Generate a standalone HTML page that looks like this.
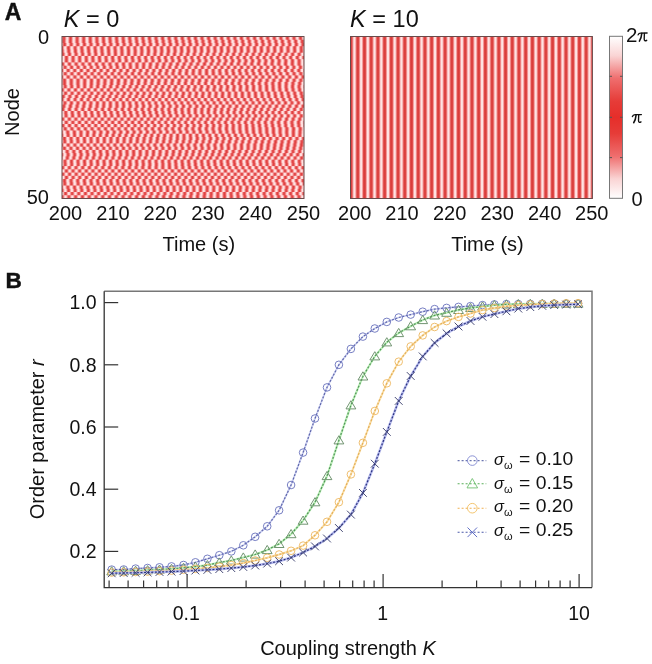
<!DOCTYPE html>
<html><head><meta charset="utf-8"><style>
html,body{margin:0;padding:0;background:#fff;overflow:hidden}
svg{display:block;will-change:transform}
text{font-family:"Liberation Sans", sans-serif;fill:#111}
</style></head><body>
<svg width="652" height="664" viewBox="0 0 652 664">
<defs>
<linearGradient id="stripe" x1="0" y1="0" x2="1" y2="0">
  <stop offset="0" stop-color="#fff0f0"/>
  <stop offset="0.1" stop-color="#ffdede"/>
  <stop offset="0.22" stop-color="#f39696"/>
  <stop offset="0.34" stop-color="#e04c4a"/>
  <stop offset="0.42" stop-color="#da3c3a"/>
  <stop offset="0.58" stop-color="#da3c3a"/>
  <stop offset="0.66" stop-color="#e04c4a"/>
  <stop offset="0.78" stop-color="#f39696"/>
  <stop offset="0.9" stop-color="#ffdede"/>
  <stop offset="1" stop-color="#fff0f0"/>
</linearGradient>
<linearGradient id="stripeL" x1="0" y1="0" x2="1" y2="0">
  <stop offset="0" stop-color="#fff0f0"/>
  <stop offset="0.14" stop-color="#ffd6d6"/>
  <stop offset="0.3" stop-color="#ef7272"/>
  <stop offset="0.42" stop-color="#df3e3e"/>
  <stop offset="0.58" stop-color="#df3e3e"/>
  <stop offset="0.7" stop-color="#ef7272"/>
  <stop offset="0.86" stop-color="#ffd6d6"/>
  <stop offset="1" stop-color="#fff0f0"/>
</linearGradient>
<linearGradient id="cbar" x1="0" y1="0" x2="0" y2="1">
  <stop offset="0" stop-color="#ffffff"/>
  <stop offset="0.12" stop-color="#fad4d4"/>
  <stop offset="0.26" stop-color="#ef6e6e"/>
  <stop offset="0.4" stop-color="#e63c38"/>
  <stop offset="0.5" stop-color="#e62e2a"/>
  <stop offset="0.6" stop-color="#e63c38"/>
  <stop offset="0.74" stop-color="#ef6e6e"/>
  <stop offset="0.88" stop-color="#fad4d4"/>
  <stop offset="1" stop-color="#ffffff"/>
</linearGradient>

<pattern id="pR" patternUnits="userSpaceOnUse" x="354.4" y="0" width="6.717" height="664"><rect x="0" y="0" width="6.717" height="664" fill="url(#stripe)"/></pattern>
<pattern id="pL0" patternUnits="userSpaceOnUse" x="67.27" y="0" width="6.572" height="664"><rect x="0" y="0" width="6.572" height="664" fill="url(#stripeL)"/></pattern>
<pattern id="pL1" patternUnits="userSpaceOnUse" x="67.15" y="0" width="6.623" height="664"><rect x="0" y="0" width="6.623" height="664" fill="url(#stripeL)"/></pattern>
<pattern id="pL2" patternUnits="userSpaceOnUse" x="67.84" y="0" width="6.622" height="664"><rect x="0" y="0" width="6.622" height="664" fill="url(#stripeL)"/></pattern>
<pattern id="pL3" patternUnits="userSpaceOnUse" x="65.13" y="0" width="6.651" height="664"><rect x="0" y="0" width="6.651" height="664" fill="url(#stripeL)"/></pattern>
<pattern id="pL4" patternUnits="userSpaceOnUse" x="65.46" y="0" width="6.645" height="664"><rect x="0" y="0" width="6.645" height="664" fill="url(#stripeL)"/></pattern>
<pattern id="pL5" patternUnits="userSpaceOnUse" x="66.23" y="0" width="6.562" height="664"><rect x="0" y="0" width="6.562" height="664" fill="url(#stripeL)"/></pattern>
<pattern id="pL6" patternUnits="userSpaceOnUse" x="63.16" y="0" width="6.596" height="664"><rect x="0" y="0" width="6.596" height="664" fill="url(#stripeL)"/></pattern>
<pattern id="pL7" patternUnits="userSpaceOnUse" x="63.08" y="0" width="6.649" height="664"><rect x="0" y="0" width="6.649" height="664" fill="url(#stripeL)"/></pattern>
<pattern id="pL8" patternUnits="userSpaceOnUse" x="66.03" y="0" width="6.755" height="664"><rect x="0" y="0" width="6.755" height="664" fill="url(#stripeL)"/></pattern>
<pattern id="pL9" patternUnits="userSpaceOnUse" x="68.35" y="0" width="6.537" height="664"><rect x="0" y="0" width="6.537" height="664" fill="url(#stripeL)"/></pattern>
<pattern id="pL10" patternUnits="userSpaceOnUse" x="64.88" y="0" width="6.590" height="664"><rect x="0" y="0" width="6.590" height="664" fill="url(#stripeL)"/></pattern>
<pattern id="pL11" patternUnits="userSpaceOnUse" x="68.59" y="0" width="6.731" height="664"><rect x="0" y="0" width="6.731" height="664" fill="url(#stripeL)"/></pattern>
<pattern id="pL12" patternUnits="userSpaceOnUse" x="64.86" y="0" width="6.710" height="664"><rect x="0" y="0" width="6.710" height="664" fill="url(#stripeL)"/></pattern>
<pattern id="pL13" patternUnits="userSpaceOnUse" x="67.89" y="0" width="6.752" height="664"><rect x="0" y="0" width="6.752" height="664" fill="url(#stripeL)"/></pattern>
<pattern id="pL14" patternUnits="userSpaceOnUse" x="67.89" y="0" width="6.718" height="664"><rect x="0" y="0" width="6.718" height="664" fill="url(#stripeL)"/></pattern>
<pattern id="pL15" patternUnits="userSpaceOnUse" x="68.44" y="0" width="6.497" height="664"><rect x="0" y="0" width="6.497" height="664" fill="url(#stripeL)"/></pattern>
<pattern id="pL16" patternUnits="userSpaceOnUse" x="65.57" y="0" width="6.594" height="664"><rect x="0" y="0" width="6.594" height="664" fill="url(#stripeL)"/></pattern>
<pattern id="pL17" patternUnits="userSpaceOnUse" x="62.28" y="0" width="6.548" height="664"><rect x="0" y="0" width="6.548" height="664" fill="url(#stripeL)"/></pattern>
<pattern id="pL18" patternUnits="userSpaceOnUse" x="66.56" y="0" width="6.633" height="664"><rect x="0" y="0" width="6.633" height="664" fill="url(#stripeL)"/></pattern>
<pattern id="pL19" patternUnits="userSpaceOnUse" x="65.29" y="0" width="6.519" height="664"><rect x="0" y="0" width="6.519" height="664" fill="url(#stripeL)"/></pattern>
<pattern id="pL20" patternUnits="userSpaceOnUse" x="68.22" y="0" width="6.486" height="664"><rect x="0" y="0" width="6.486" height="664" fill="url(#stripeL)"/></pattern>
<pattern id="pL21" patternUnits="userSpaceOnUse" x="67.15" y="0" width="6.647" height="664"><rect x="0" y="0" width="6.647" height="664" fill="url(#stripeL)"/></pattern>
<pattern id="pL22" patternUnits="userSpaceOnUse" x="66.17" y="0" width="6.622" height="664"><rect x="0" y="0" width="6.622" height="664" fill="url(#stripeL)"/></pattern>
<pattern id="pL23" patternUnits="userSpaceOnUse" x="62.56" y="0" width="6.476" height="664"><rect x="0" y="0" width="6.476" height="664" fill="url(#stripeL)"/></pattern>
<pattern id="pL24" patternUnits="userSpaceOnUse" x="62.79" y="0" width="6.534" height="664"><rect x="0" y="0" width="6.534" height="664" fill="url(#stripeL)"/></pattern>
<pattern id="pL25" patternUnits="userSpaceOnUse" x="66.02" y="0" width="6.583" height="664"><rect x="0" y="0" width="6.583" height="664" fill="url(#stripeL)"/></pattern>
<pattern id="pL26" patternUnits="userSpaceOnUse" x="62.90" y="0" width="6.639" height="664"><rect x="0" y="0" width="6.639" height="664" fill="url(#stripeL)"/></pattern>
<pattern id="pL27" patternUnits="userSpaceOnUse" x="66.20" y="0" width="6.553" height="664"><rect x="0" y="0" width="6.553" height="664" fill="url(#stripeL)"/></pattern>
<pattern id="pL28" patternUnits="userSpaceOnUse" x="68.61" y="0" width="6.715" height="664"><rect x="0" y="0" width="6.715" height="664" fill="url(#stripeL)"/></pattern>
<pattern id="pL29" patternUnits="userSpaceOnUse" x="64.42" y="0" width="6.636" height="664"><rect x="0" y="0" width="6.636" height="664" fill="url(#stripeL)"/></pattern>
<pattern id="pL30" patternUnits="userSpaceOnUse" x="64.89" y="0" width="6.437" height="664"><rect x="0" y="0" width="6.437" height="664" fill="url(#stripeL)"/></pattern>
<pattern id="pL31" patternUnits="userSpaceOnUse" x="67.77" y="0" width="6.643" height="664"><rect x="0" y="0" width="6.643" height="664" fill="url(#stripeL)"/></pattern>
<pattern id="pL32" patternUnits="userSpaceOnUse" x="68.08" y="0" width="6.586" height="664"><rect x="0" y="0" width="6.586" height="664" fill="url(#stripeL)"/></pattern>
<pattern id="pL33" patternUnits="userSpaceOnUse" x="64.87" y="0" width="6.665" height="664"><rect x="0" y="0" width="6.665" height="664" fill="url(#stripeL)"/></pattern>
<pattern id="pL34" patternUnits="userSpaceOnUse" x="67.68" y="0" width="6.563" height="664"><rect x="0" y="0" width="6.563" height="664" fill="url(#stripeL)"/></pattern>
<pattern id="pL35" patternUnits="userSpaceOnUse" x="63.87" y="0" width="6.642" height="664"><rect x="0" y="0" width="6.642" height="664" fill="url(#stripeL)"/></pattern>
<pattern id="pL36" patternUnits="userSpaceOnUse" x="64.81" y="0" width="6.560" height="664"><rect x="0" y="0" width="6.560" height="664" fill="url(#stripeL)"/></pattern>
<pattern id="pL37" patternUnits="userSpaceOnUse" x="64.06" y="0" width="6.509" height="664"><rect x="0" y="0" width="6.509" height="664" fill="url(#stripeL)"/></pattern>
<pattern id="pL38" patternUnits="userSpaceOnUse" x="68.23" y="0" width="6.508" height="664"><rect x="0" y="0" width="6.508" height="664" fill="url(#stripeL)"/></pattern>
<pattern id="pL39" patternUnits="userSpaceOnUse" x="68.43" y="0" width="6.514" height="664"><rect x="0" y="0" width="6.514" height="664" fill="url(#stripeL)"/></pattern>
<pattern id="pL40" patternUnits="userSpaceOnUse" x="66.00" y="0" width="6.677" height="664"><rect x="0" y="0" width="6.677" height="664" fill="url(#stripeL)"/></pattern>
<pattern id="pL41" patternUnits="userSpaceOnUse" x="63.07" y="0" width="6.625" height="664"><rect x="0" y="0" width="6.625" height="664" fill="url(#stripeL)"/></pattern>
<pattern id="pL42" patternUnits="userSpaceOnUse" x="66.27" y="0" width="6.625" height="664"><rect x="0" y="0" width="6.625" height="664" fill="url(#stripeL)"/></pattern>
<pattern id="pL43" patternUnits="userSpaceOnUse" x="63.14" y="0" width="6.634" height="664"><rect x="0" y="0" width="6.634" height="664" fill="url(#stripeL)"/></pattern>
<pattern id="pL44" patternUnits="userSpaceOnUse" x="67.78" y="0" width="6.629" height="664"><rect x="0" y="0" width="6.629" height="664" fill="url(#stripeL)"/></pattern>
<pattern id="pL45" patternUnits="userSpaceOnUse" x="68.11" y="0" width="6.655" height="664"><rect x="0" y="0" width="6.655" height="664" fill="url(#stripeL)"/></pattern>
<pattern id="pL46" patternUnits="userSpaceOnUse" x="64.55" y="0" width="6.635" height="664"><rect x="0" y="0" width="6.635" height="664" fill="url(#stripeL)"/></pattern>
<pattern id="pL47" patternUnits="userSpaceOnUse" x="65.27" y="0" width="6.596" height="664"><rect x="0" y="0" width="6.596" height="664" fill="url(#stripeL)"/></pattern>
<pattern id="pL48" patternUnits="userSpaceOnUse" x="62.24" y="0" width="6.621" height="664"><rect x="0" y="0" width="6.621" height="664" fill="url(#stripeL)"/></pattern>
<pattern id="pL49" patternUnits="userSpaceOnUse" x="65.51" y="0" width="6.768" height="664"><rect x="0" y="0" width="6.768" height="664" fill="url(#stripeL)"/></pattern>
</defs>
<rect x="62.0" y="36.50" width="242.0" height="4.24" fill="url(#pL0)"/>
<rect x="62.0" y="39.74" width="242.0" height="4.24" fill="url(#pL1)"/>
<rect x="62.0" y="42.98" width="242.0" height="4.24" fill="url(#pL2)"/>
<rect x="62.0" y="46.22" width="242.0" height="4.24" fill="url(#pL3)"/>
<rect x="62.0" y="49.46" width="242.0" height="4.24" fill="url(#pL4)"/>
<rect x="62.0" y="52.70" width="242.0" height="4.24" fill="url(#pL5)"/>
<rect x="62.0" y="55.94" width="242.0" height="4.24" fill="url(#pL6)"/>
<rect x="62.0" y="59.18" width="242.0" height="4.24" fill="url(#pL7)"/>
<rect x="62.0" y="62.42" width="242.0" height="4.24" fill="url(#pL8)"/>
<rect x="62.0" y="65.66" width="242.0" height="4.24" fill="url(#pL9)"/>
<rect x="62.0" y="68.90" width="242.0" height="4.24" fill="url(#pL10)"/>
<rect x="62.0" y="72.14" width="242.0" height="4.24" fill="url(#pL11)"/>
<rect x="62.0" y="75.38" width="242.0" height="4.24" fill="url(#pL12)"/>
<rect x="62.0" y="78.62" width="242.0" height="4.24" fill="url(#pL13)"/>
<rect x="62.0" y="81.86" width="242.0" height="4.24" fill="url(#pL14)"/>
<rect x="62.0" y="85.10" width="242.0" height="4.24" fill="url(#pL15)"/>
<rect x="62.0" y="88.34" width="242.0" height="4.24" fill="url(#pL16)"/>
<rect x="62.0" y="91.58" width="242.0" height="4.24" fill="url(#pL17)"/>
<rect x="62.0" y="94.82" width="242.0" height="4.24" fill="url(#pL18)"/>
<rect x="62.0" y="98.06" width="242.0" height="4.24" fill="url(#pL19)"/>
<rect x="62.0" y="101.30" width="242.0" height="4.24" fill="url(#pL20)"/>
<rect x="62.0" y="104.54" width="242.0" height="4.24" fill="url(#pL21)"/>
<rect x="62.0" y="107.78" width="242.0" height="4.24" fill="url(#pL22)"/>
<rect x="62.0" y="111.02" width="242.0" height="4.24" fill="url(#pL23)"/>
<rect x="62.0" y="114.26" width="242.0" height="4.24" fill="url(#pL24)"/>
<rect x="62.0" y="117.50" width="242.0" height="4.24" fill="url(#pL25)"/>
<rect x="62.0" y="120.74" width="242.0" height="4.24" fill="url(#pL26)"/>
<rect x="62.0" y="123.98" width="242.0" height="4.24" fill="url(#pL27)"/>
<rect x="62.0" y="127.22" width="242.0" height="4.24" fill="url(#pL28)"/>
<rect x="62.0" y="130.46" width="242.0" height="4.24" fill="url(#pL29)"/>
<rect x="62.0" y="133.70" width="242.0" height="4.24" fill="url(#pL30)"/>
<rect x="62.0" y="136.94" width="242.0" height="4.24" fill="url(#pL31)"/>
<rect x="62.0" y="140.18" width="242.0" height="4.24" fill="url(#pL32)"/>
<rect x="62.0" y="143.42" width="242.0" height="4.24" fill="url(#pL33)"/>
<rect x="62.0" y="146.66" width="242.0" height="4.24" fill="url(#pL34)"/>
<rect x="62.0" y="149.90" width="242.0" height="4.24" fill="url(#pL35)"/>
<rect x="62.0" y="153.14" width="242.0" height="4.24" fill="url(#pL36)"/>
<rect x="62.0" y="156.38" width="242.0" height="4.24" fill="url(#pL37)"/>
<rect x="62.0" y="159.62" width="242.0" height="4.24" fill="url(#pL38)"/>
<rect x="62.0" y="162.86" width="242.0" height="4.24" fill="url(#pL39)"/>
<rect x="62.0" y="166.10" width="242.0" height="4.24" fill="url(#pL40)"/>
<rect x="62.0" y="169.34" width="242.0" height="4.24" fill="url(#pL41)"/>
<rect x="62.0" y="172.58" width="242.0" height="4.24" fill="url(#pL42)"/>
<rect x="62.0" y="175.82" width="242.0" height="4.24" fill="url(#pL43)"/>
<rect x="62.0" y="179.06" width="242.0" height="4.24" fill="url(#pL44)"/>
<rect x="62.0" y="182.30" width="242.0" height="4.24" fill="url(#pL45)"/>
<rect x="62.0" y="185.54" width="242.0" height="4.24" fill="url(#pL46)"/>
<rect x="62.0" y="188.78" width="242.0" height="4.24" fill="url(#pL47)"/>
<rect x="62.0" y="192.02" width="242.0" height="4.24" fill="url(#pL48)"/>
<rect x="62.0" y="195.26" width="242.0" height="3.24" fill="url(#pL49)"/>
<rect x="62.0" y="36.5" width="242.0" height="162.0" fill="none" stroke="#6a4a4a" stroke-width="1.0"/>
<rect x="350.5" y="36.5" width="241.9" height="162.0" fill="url(#pR)" stroke="#6a4a4a" stroke-width="1.0"/>
<rect x="609.5" y="36.3" width="13.0" height="162.0" fill="url(#cbar)" stroke="#777" stroke-width="1"/>
<line x1="609.5" y1="76.3" x2="612.0" y2="76.3" stroke="#555" stroke-width="1"/>
<line x1="620.0" y1="76.3" x2="622.5" y2="76.3" stroke="#555" stroke-width="1"/>
<line x1="609.5" y1="117.3" x2="612.0" y2="117.3" stroke="#555" stroke-width="1"/>
<line x1="620.0" y1="117.3" x2="622.5" y2="117.3" stroke="#555" stroke-width="1"/>
<line x1="609.5" y1="157.6" x2="612.0" y2="157.6" stroke="#555" stroke-width="1"/>
<line x1="620.0" y1="157.6" x2="622.5" y2="157.6" stroke="#555" stroke-width="1"/>
<text x="4.7" y="20.2" font-size="23" font-weight="bold" stroke="#111" stroke-width="0.4">A</text>
<text x="63.7" y="27.1" font-size="23.5"><tspan font-style="italic">K</tspan> = 0</text>
<text x="350.1" y="27.1" font-size="23.5"><tspan font-style="italic">K</tspan> = 10</text>
<text x="49" y="44" font-size="20" text-anchor="end">0</text>
<text x="49" y="204.2" font-size="20" text-anchor="end">50</text>
<text transform="translate(19,112) rotate(-90)" font-size="20" text-anchor="middle">Node</text>
<text x="65.5" y="220.3" font-size="20" text-anchor="middle">200</text>
<text x="113" y="220.3" font-size="20" text-anchor="middle">210</text>
<text x="160.3" y="220.3" font-size="20" text-anchor="middle">220</text>
<text x="208" y="220.3" font-size="20" text-anchor="middle">230</text>
<text x="255.5" y="220.3" font-size="20" text-anchor="middle">240</text>
<text x="303.5" y="220.3" font-size="20" text-anchor="middle">250</text>
<text x="354.8" y="220.3" font-size="20" text-anchor="middle">200</text>
<text x="402.0" y="220.3" font-size="20" text-anchor="middle">210</text>
<text x="449.6" y="220.3" font-size="20" text-anchor="middle">220</text>
<text x="497.1" y="220.3" font-size="20" text-anchor="middle">230</text>
<text x="544.6" y="220.3" font-size="20" text-anchor="middle">240</text>
<text x="591.8" y="220.3" font-size="20" text-anchor="middle">250</text>
<text x="198.8" y="250.8" font-size="20" text-anchor="middle">Time (s)</text>
<text x="487.5" y="250.8" font-size="20" text-anchor="middle">Time (s)</text>
<text x="626" y="41.6" font-size="20.5">2</text>
<g transform="translate(637.9,32.6) scale(1.0)" fill="none" stroke="#111" stroke-linecap="round"><path d="M0.2,2.3 Q0.8,0.6 2.8,0.5 L9.2,0.4" stroke-width="1.35"/><path d="M3.9,0.7 Q3.5,5.6 1.5,8.5" stroke-width="1.55"/><path d="M6.5,0.7 L6.3,6.3 Q6.4,9.1 8.8,7.7" stroke-width="1.35"/></g>
<g transform="translate(632.2,114.2) scale(1.0)" fill="none" stroke="#111" stroke-linecap="round"><path d="M0.2,2.3 Q0.8,0.6 2.8,0.5 L9.2,0.4" stroke-width="1.35"/><path d="M3.9,0.7 Q3.5,5.6 1.5,8.5" stroke-width="1.55"/><path d="M6.5,0.7 L6.3,6.3 Q6.4,9.1 8.8,7.7" stroke-width="1.35"/></g>
<text x="631.5" y="206" font-size="20">0</text>
<text x="5.5" y="287.8" font-size="22.6" font-weight="bold" stroke="#111" stroke-width="0.45">B</text>
<path d="M104.2,291.2 H592.0 V587.6" fill="none" stroke="#777" stroke-width="1.5"/>
<path d="M104.2,291.2 V587.6 H592.0" fill="none" stroke="#333" stroke-width="1.3"/>
<line x1="104.2" y1="302.6" x2="118.2" y2="302.6" stroke="#333" stroke-width="1.2"/>
<text x="96.5" y="309.3" font-size="19.5" text-anchor="end">1.0</text>
<line x1="104.2" y1="364.8" x2="118.2" y2="364.8" stroke="#333" stroke-width="1.2"/>
<text x="96.5" y="371.5" font-size="19.5" text-anchor="end">0.8</text>
<line x1="104.2" y1="427.0" x2="118.2" y2="427.0" stroke="#333" stroke-width="1.2"/>
<text x="96.5" y="433.7" font-size="19.5" text-anchor="end">0.6</text>
<line x1="104.2" y1="489.2" x2="118.2" y2="489.2" stroke="#333" stroke-width="1.2"/>
<text x="96.5" y="495.9" font-size="19.5" text-anchor="end">0.4</text>
<line x1="104.2" y1="551.4" x2="118.2" y2="551.4" stroke="#333" stroke-width="1.2"/>
<text x="96.5" y="558.1" font-size="19.5" text-anchor="end">0.2</text>
<line x1="109.1" y1="587.6" x2="109.1" y2="580.6" stroke="#333" stroke-width="1.2"/>
<line x1="128.1" y1="587.6" x2="128.1" y2="580.6" stroke="#333" stroke-width="1.2"/>
<line x1="143.6" y1="587.6" x2="143.6" y2="580.6" stroke="#333" stroke-width="1.2"/>
<line x1="156.7" y1="587.6" x2="156.7" y2="580.6" stroke="#333" stroke-width="1.2"/>
<line x1="168.1" y1="587.6" x2="168.1" y2="580.6" stroke="#333" stroke-width="1.2"/>
<line x1="178.1" y1="587.6" x2="178.1" y2="580.6" stroke="#333" stroke-width="1.2"/>
<line x1="187.1" y1="587.6" x2="187.1" y2="574.1" stroke="#333" stroke-width="1.2"/>
<line x1="246.1" y1="587.6" x2="246.1" y2="580.6" stroke="#333" stroke-width="1.2"/>
<line x1="280.6" y1="587.6" x2="280.6" y2="580.6" stroke="#333" stroke-width="1.2"/>
<line x1="305.1" y1="587.6" x2="305.1" y2="580.6" stroke="#333" stroke-width="1.2"/>
<line x1="324.1" y1="587.6" x2="324.1" y2="580.6" stroke="#333" stroke-width="1.2"/>
<line x1="339.6" y1="587.6" x2="339.6" y2="580.6" stroke="#333" stroke-width="1.2"/>
<line x1="352.7" y1="587.6" x2="352.7" y2="580.6" stroke="#333" stroke-width="1.2"/>
<line x1="364.1" y1="587.6" x2="364.1" y2="580.6" stroke="#333" stroke-width="1.2"/>
<line x1="374.1" y1="587.6" x2="374.1" y2="580.6" stroke="#333" stroke-width="1.2"/>
<line x1="383.1" y1="587.6" x2="383.1" y2="574.1" stroke="#333" stroke-width="1.2"/>
<line x1="442.1" y1="587.6" x2="442.1" y2="580.6" stroke="#333" stroke-width="1.2"/>
<line x1="476.6" y1="587.6" x2="476.6" y2="580.6" stroke="#333" stroke-width="1.2"/>
<line x1="501.1" y1="587.6" x2="501.1" y2="580.6" stroke="#333" stroke-width="1.2"/>
<line x1="520.1" y1="587.6" x2="520.1" y2="580.6" stroke="#333" stroke-width="1.2"/>
<line x1="535.6" y1="587.6" x2="535.6" y2="580.6" stroke="#333" stroke-width="1.2"/>
<line x1="548.7" y1="587.6" x2="548.7" y2="580.6" stroke="#333" stroke-width="1.2"/>
<line x1="560.1" y1="587.6" x2="560.1" y2="580.6" stroke="#333" stroke-width="1.2"/>
<line x1="570.1" y1="587.6" x2="570.1" y2="580.6" stroke="#333" stroke-width="1.2"/>
<line x1="579.1" y1="587.6" x2="579.1" y2="574.1" stroke="#333" stroke-width="1.2"/>
<text x="186.2" y="619.5" font-size="19.5" text-anchor="middle">0.1</text>
<text x="382.8" y="619.5" font-size="19.5" text-anchor="middle">1</text>
<text x="579" y="619.5" font-size="19.5" text-anchor="middle">10</text>
<text transform="translate(44,439.3) rotate(-90)" font-size="20" text-anchor="middle">Order parameter <tspan font-style="italic">r</tspan></text>
<text x="348" y="655.2" font-size="20" text-anchor="middle">Coupling strength <tspan font-style="italic">K</tspan></text>
<polyline points="111.7,569.6 123.7,569.5 135.6,568.6 147.6,568.0 159.5,567.3 171.5,566.4 183.5,565.0 195.4,562.3 207.4,558.8 219.3,555.2 231.3,551.4 243.3,545.3 255.2,536.8 267.2,526.3 279.1,510.3 291.1,485.0 303.1,452.6 315.0,418.5 327.0,387.4 338.9,364.8 350.9,348.9 362.9,336.6 374.8,328.5 386.8,321.9 398.7,317.5 410.7,314.6 422.7,311.7 434.6,309.1 446.6,307.9 458.5,306.9 470.5,306.1 482.5,305.1 494.4,304.4 506.4,304.1 518.3,304.1 530.3,303.9 542.3,303.8 554.2,303.7 566.2,303.6 578.1,303.6" fill="none" stroke="#ccd0f2" stroke-width="1.8"/>
<polyline points="111.7,569.6 123.7,569.5 135.6,568.6 147.6,568.0 159.5,567.3 171.5,566.4 183.5,565.0 195.4,562.3 207.4,558.8 219.3,555.2 231.3,551.4 243.3,545.3 255.2,536.8 267.2,526.3 279.1,510.3 291.1,485.0 303.1,452.6 315.0,418.5 327.0,387.4 338.9,364.8 350.9,348.9 362.9,336.6 374.8,328.5 386.8,321.9 398.7,317.5 410.7,314.6 422.7,311.7 434.6,309.1 446.6,307.9 458.5,306.9 470.5,306.1 482.5,305.1 494.4,304.4 506.4,304.1 518.3,304.1 530.3,303.9 542.3,303.8 554.2,303.7 566.2,303.6 578.1,303.6" fill="none" stroke="#6068aa" stroke-width="1.2" stroke-dasharray="2 1.6"/>
<circle cx="111.7" cy="569.6" r="3.8" fill="none" stroke="#7078c0" stroke-width="0.95"/>
<circle cx="123.7" cy="569.5" r="3.8" fill="none" stroke="#7078c0" stroke-width="0.95"/>
<circle cx="135.6" cy="568.6" r="3.8" fill="none" stroke="#7078c0" stroke-width="0.95"/>
<circle cx="147.6" cy="568.0" r="3.8" fill="none" stroke="#7078c0" stroke-width="0.95"/>
<circle cx="159.5" cy="567.3" r="3.8" fill="none" stroke="#7078c0" stroke-width="0.95"/>
<circle cx="171.5" cy="566.4" r="3.8" fill="none" stroke="#7078c0" stroke-width="0.95"/>
<circle cx="183.5" cy="565.0" r="3.8" fill="none" stroke="#7078c0" stroke-width="0.95"/>
<circle cx="195.4" cy="562.3" r="3.8" fill="none" stroke="#7078c0" stroke-width="0.95"/>
<circle cx="207.4" cy="558.8" r="3.8" fill="none" stroke="#7078c0" stroke-width="0.95"/>
<circle cx="219.3" cy="555.2" r="3.8" fill="none" stroke="#7078c0" stroke-width="0.95"/>
<circle cx="231.3" cy="551.4" r="3.8" fill="none" stroke="#7078c0" stroke-width="0.95"/>
<circle cx="243.3" cy="545.3" r="3.8" fill="none" stroke="#7078c0" stroke-width="0.95"/>
<circle cx="255.2" cy="536.8" r="3.8" fill="none" stroke="#7078c0" stroke-width="0.95"/>
<circle cx="267.2" cy="526.3" r="3.8" fill="none" stroke="#7078c0" stroke-width="0.95"/>
<circle cx="279.1" cy="510.3" r="3.8" fill="none" stroke="#7078c0" stroke-width="0.95"/>
<circle cx="291.1" cy="485.0" r="3.8" fill="none" stroke="#7078c0" stroke-width="0.95"/>
<circle cx="303.1" cy="452.6" r="3.8" fill="none" stroke="#7078c0" stroke-width="0.95"/>
<circle cx="315.0" cy="418.5" r="3.8" fill="none" stroke="#7078c0" stroke-width="0.95"/>
<circle cx="327.0" cy="387.4" r="3.8" fill="none" stroke="#7078c0" stroke-width="0.95"/>
<circle cx="338.9" cy="364.8" r="3.8" fill="none" stroke="#7078c0" stroke-width="0.95"/>
<circle cx="350.9" cy="348.9" r="3.8" fill="none" stroke="#7078c0" stroke-width="0.95"/>
<circle cx="362.9" cy="336.6" r="3.8" fill="none" stroke="#7078c0" stroke-width="0.95"/>
<circle cx="374.8" cy="328.5" r="3.8" fill="none" stroke="#7078c0" stroke-width="0.95"/>
<circle cx="386.8" cy="321.9" r="3.8" fill="none" stroke="#7078c0" stroke-width="0.95"/>
<circle cx="398.7" cy="317.5" r="3.8" fill="none" stroke="#7078c0" stroke-width="0.95"/>
<circle cx="410.7" cy="314.6" r="3.8" fill="none" stroke="#7078c0" stroke-width="0.95"/>
<circle cx="422.7" cy="311.7" r="3.8" fill="none" stroke="#7078c0" stroke-width="0.95"/>
<circle cx="434.6" cy="309.1" r="3.8" fill="none" stroke="#7078c0" stroke-width="0.95"/>
<circle cx="446.6" cy="307.9" r="3.8" fill="none" stroke="#7078c0" stroke-width="0.95"/>
<circle cx="458.5" cy="306.9" r="3.8" fill="none" stroke="#7078c0" stroke-width="0.95"/>
<circle cx="470.5" cy="306.1" r="3.8" fill="none" stroke="#7078c0" stroke-width="0.95"/>
<circle cx="482.5" cy="305.1" r="3.8" fill="none" stroke="#7078c0" stroke-width="0.95"/>
<circle cx="494.4" cy="304.4" r="3.8" fill="none" stroke="#7078c0" stroke-width="0.95"/>
<circle cx="506.4" cy="304.1" r="3.8" fill="none" stroke="#7078c0" stroke-width="0.95"/>
<circle cx="518.3" cy="304.1" r="3.8" fill="none" stroke="#7078c0" stroke-width="0.95"/>
<circle cx="530.3" cy="303.9" r="3.8" fill="none" stroke="#7078c0" stroke-width="0.95"/>
<circle cx="542.3" cy="303.8" r="3.8" fill="none" stroke="#7078c0" stroke-width="0.95"/>
<circle cx="554.2" cy="303.7" r="3.8" fill="none" stroke="#7078c0" stroke-width="0.95"/>
<circle cx="566.2" cy="303.6" r="3.8" fill="none" stroke="#7078c0" stroke-width="0.95"/>
<circle cx="578.1" cy="303.6" r="3.8" fill="none" stroke="#7078c0" stroke-width="0.95"/>
<polyline points="111.7,571.3 123.7,571.2 135.6,570.8 147.6,570.2 159.5,569.6 171.5,568.9 183.5,567.8 195.4,566.6 207.4,565.1 219.3,562.5 231.3,560.5 243.3,557.5 255.2,554.5 267.2,550.0 279.1,543.9 291.1,534.1 303.1,520.6 315.0,502.2 327.0,476.0 338.9,440.3 350.9,405.3 362.9,376.4 374.8,356.3 386.8,342.3 398.7,333.0 410.7,326.2 422.7,320.0 434.6,315.4 446.6,312.7 458.5,309.9 470.5,307.9 482.5,306.5 494.4,305.1 506.4,304.4 518.3,304.1 530.3,303.9 542.3,303.8 554.2,303.7 566.2,303.6 578.1,303.6" fill="none" stroke="#bcf0b8" stroke-width="2.2"/>
<polyline points="111.7,571.3 123.7,571.2 135.6,570.8 147.6,570.2 159.5,569.6 171.5,568.9 183.5,567.8 195.4,566.6 207.4,565.1 219.3,562.5 231.3,560.5 243.3,557.5 255.2,554.5 267.2,550.0 279.1,543.9 291.1,534.1 303.1,520.6 315.0,502.2 327.0,476.0 338.9,440.3 350.9,405.3 362.9,376.4 374.8,356.3 386.8,342.3 398.7,333.0 410.7,326.2 422.7,320.0 434.6,315.4 446.6,312.7 458.5,309.9 470.5,307.9 482.5,306.5 494.4,305.1 506.4,304.4 518.3,304.1 530.3,303.9 542.3,303.8 554.2,303.7 566.2,303.6 578.1,303.6" fill="none" stroke="#52925a" stroke-width="1.2" stroke-dasharray="2 1.6"/>
<path d="M111.7,566.7 L116.6,574.9 L106.8,574.9 Z" fill="none" stroke="#6a8f6a" stroke-width="0.95"/>
<path d="M123.7,566.6 L128.6,574.8 L118.8,574.8 Z" fill="none" stroke="#6a8f6a" stroke-width="0.95"/>
<path d="M135.6,566.2 L140.5,574.4 L130.7,574.4 Z" fill="none" stroke="#6a8f6a" stroke-width="0.95"/>
<path d="M147.6,565.6 L152.5,573.8 L142.7,573.8 Z" fill="none" stroke="#6a8f6a" stroke-width="0.95"/>
<path d="M159.5,565.0 L164.4,573.2 L154.6,573.2 Z" fill="none" stroke="#6a8f6a" stroke-width="0.95"/>
<path d="M171.5,564.3 L176.4,572.5 L166.6,572.5 Z" fill="none" stroke="#6a8f6a" stroke-width="0.95"/>
<path d="M183.5,563.2 L188.4,571.4 L178.6,571.4 Z" fill="none" stroke="#6a8f6a" stroke-width="0.95"/>
<path d="M195.4,562.0 L200.3,570.2 L190.5,570.2 Z" fill="none" stroke="#6a8f6a" stroke-width="0.95"/>
<path d="M207.4,560.5 L212.3,568.7 L202.5,568.7 Z" fill="none" stroke="#6a8f6a" stroke-width="0.95"/>
<path d="M219.3,557.9 L224.2,566.1 L214.4,566.1 Z" fill="none" stroke="#6a8f6a" stroke-width="0.95"/>
<path d="M231.3,555.9 L236.2,564.1 L226.4,564.1 Z" fill="none" stroke="#6a8f6a" stroke-width="0.95"/>
<path d="M243.3,552.9 L248.2,561.1 L238.4,561.1 Z" fill="none" stroke="#6a8f6a" stroke-width="0.95"/>
<path d="M255.2,549.9 L260.1,558.1 L250.3,558.1 Z" fill="none" stroke="#6a8f6a" stroke-width="0.95"/>
<path d="M267.2,545.4 L272.1,553.6 L262.3,553.6 Z" fill="none" stroke="#6a8f6a" stroke-width="0.95"/>
<path d="M279.1,539.3 L284.0,547.5 L274.2,547.5 Z" fill="none" stroke="#6a8f6a" stroke-width="0.95"/>
<path d="M291.1,529.5 L296.0,537.7 L286.2,537.7 Z" fill="none" stroke="#6a8f6a" stroke-width="0.95"/>
<path d="M303.1,516.0 L308.0,524.2 L298.2,524.2 Z" fill="none" stroke="#6a8f6a" stroke-width="0.95"/>
<path d="M315.0,497.6 L319.9,505.8 L310.1,505.8 Z" fill="none" stroke="#6a8f6a" stroke-width="0.95"/>
<path d="M327.0,471.4 L331.9,479.6 L322.1,479.6 Z" fill="none" stroke="#6a8f6a" stroke-width="0.95"/>
<path d="M338.9,435.7 L343.8,443.9 L334.0,443.9 Z" fill="none" stroke="#6a8f6a" stroke-width="0.95"/>
<path d="M350.9,400.7 L355.8,408.9 L346.0,408.9 Z" fill="none" stroke="#6a8f6a" stroke-width="0.95"/>
<path d="M362.9,371.8 L367.8,380.0 L358.0,380.0 Z" fill="none" stroke="#6a8f6a" stroke-width="0.95"/>
<path d="M374.8,351.7 L379.7,359.9 L369.9,359.9 Z" fill="none" stroke="#6a8f6a" stroke-width="0.95"/>
<path d="M386.8,337.7 L391.7,345.9 L381.9,345.9 Z" fill="none" stroke="#6a8f6a" stroke-width="0.95"/>
<path d="M398.7,328.4 L403.6,336.6 L393.8,336.6 Z" fill="none" stroke="#6a8f6a" stroke-width="0.95"/>
<path d="M410.7,321.6 L415.6,329.8 L405.8,329.8 Z" fill="none" stroke="#6a8f6a" stroke-width="0.95"/>
<path d="M422.7,315.4 L427.6,323.6 L417.8,323.6 Z" fill="none" stroke="#6a8f6a" stroke-width="0.95"/>
<path d="M434.6,310.8 L439.5,319.0 L429.7,319.0 Z" fill="none" stroke="#6a8f6a" stroke-width="0.95"/>
<path d="M446.6,308.1 L451.5,316.3 L441.7,316.3 Z" fill="none" stroke="#6a8f6a" stroke-width="0.95"/>
<path d="M458.5,305.3 L463.4,313.5 L453.6,313.5 Z" fill="none" stroke="#6a8f6a" stroke-width="0.95"/>
<path d="M470.5,303.3 L475.4,311.5 L465.6,311.5 Z" fill="none" stroke="#6a8f6a" stroke-width="0.95"/>
<path d="M482.5,301.9 L487.4,310.1 L477.6,310.1 Z" fill="none" stroke="#6a8f6a" stroke-width="0.95"/>
<path d="M494.4,300.5 L499.3,308.7 L489.5,308.7 Z" fill="none" stroke="#6a8f6a" stroke-width="0.95"/>
<path d="M506.4,299.8 L511.3,308.0 L501.5,308.0 Z" fill="none" stroke="#6a8f6a" stroke-width="0.95"/>
<path d="M518.3,299.5 L523.2,307.7 L513.4,307.7 Z" fill="none" stroke="#6a8f6a" stroke-width="0.95"/>
<path d="M530.3,299.3 L535.2,307.5 L525.4,307.5 Z" fill="none" stroke="#6a8f6a" stroke-width="0.95"/>
<path d="M542.3,299.2 L547.2,307.4 L537.4,307.4 Z" fill="none" stroke="#6a8f6a" stroke-width="0.95"/>
<path d="M554.2,299.1 L559.1,307.3 L549.3,307.3 Z" fill="none" stroke="#6a8f6a" stroke-width="0.95"/>
<path d="M566.2,299.0 L571.1,307.2 L561.3,307.2 Z" fill="none" stroke="#6a8f6a" stroke-width="0.95"/>
<path d="M578.1,299.0 L583.0,307.2 L573.2,307.2 Z" fill="none" stroke="#6a8f6a" stroke-width="0.95"/>
<polyline points="111.7,572.6 123.7,572.3 135.6,572.0 147.6,571.6 159.5,571.1 171.5,570.6 183.5,569.8 195.4,568.9 207.4,567.9 219.3,566.6 231.3,565.0 243.3,563.1 255.2,560.5 267.2,557.8 279.1,554.5 291.1,550.8 303.1,545.6 315.0,535.3 327.0,521.8 338.9,502.2 350.9,474.4 362.9,442.8 374.8,411.0 386.8,383.3 398.7,361.7 410.7,346.4 422.7,335.4 434.6,327.0 446.6,321.1 458.5,316.9 470.5,313.5 482.5,310.0 494.4,308.0 506.4,306.3 518.3,305.2 530.3,304.5 542.3,304.0 554.2,303.6 566.2,303.3 578.1,303.2" fill="none" stroke="#fae0aa" stroke-width="2.0"/>
<polyline points="111.7,572.6 123.7,572.3 135.6,572.0 147.6,571.6 159.5,571.1 171.5,570.6 183.5,569.8 195.4,568.9 207.4,567.9 219.3,566.6 231.3,565.0 243.3,563.1 255.2,560.5 267.2,557.8 279.1,554.5 291.1,550.8 303.1,545.6 315.0,535.3 327.0,521.8 338.9,502.2 350.9,474.4 362.9,442.8 374.8,411.0 386.8,383.3 398.7,361.7 410.7,346.4 422.7,335.4 434.6,327.0 446.6,321.1 458.5,316.9 470.5,313.5 482.5,310.0 494.4,308.0 506.4,306.3 518.3,305.2 530.3,304.5 542.3,304.0 554.2,303.6 566.2,303.3 578.1,303.2" fill="none" stroke="#e4ae58" stroke-width="1.2" stroke-dasharray="2 1.6"/>
<circle cx="111.7" cy="572.6" r="3.8" fill="none" stroke="#eebb66" stroke-width="0.95"/>
<circle cx="123.7" cy="572.3" r="3.8" fill="none" stroke="#eebb66" stroke-width="0.95"/>
<circle cx="135.6" cy="572.0" r="3.8" fill="none" stroke="#eebb66" stroke-width="0.95"/>
<circle cx="147.6" cy="571.6" r="3.8" fill="none" stroke="#eebb66" stroke-width="0.95"/>
<circle cx="159.5" cy="571.1" r="3.8" fill="none" stroke="#eebb66" stroke-width="0.95"/>
<circle cx="171.5" cy="570.6" r="3.8" fill="none" stroke="#eebb66" stroke-width="0.95"/>
<circle cx="183.5" cy="569.8" r="3.8" fill="none" stroke="#eebb66" stroke-width="0.95"/>
<circle cx="195.4" cy="568.9" r="3.8" fill="none" stroke="#eebb66" stroke-width="0.95"/>
<circle cx="207.4" cy="567.9" r="3.8" fill="none" stroke="#eebb66" stroke-width="0.95"/>
<circle cx="219.3" cy="566.6" r="3.8" fill="none" stroke="#eebb66" stroke-width="0.95"/>
<circle cx="231.3" cy="565.0" r="3.8" fill="none" stroke="#eebb66" stroke-width="0.95"/>
<circle cx="243.3" cy="563.1" r="3.8" fill="none" stroke="#eebb66" stroke-width="0.95"/>
<circle cx="255.2" cy="560.5" r="3.8" fill="none" stroke="#eebb66" stroke-width="0.95"/>
<circle cx="267.2" cy="557.8" r="3.8" fill="none" stroke="#eebb66" stroke-width="0.95"/>
<circle cx="279.1" cy="554.5" r="3.8" fill="none" stroke="#eebb66" stroke-width="0.95"/>
<circle cx="291.1" cy="550.8" r="3.8" fill="none" stroke="#eebb66" stroke-width="0.95"/>
<circle cx="303.1" cy="545.6" r="3.8" fill="none" stroke="#eebb66" stroke-width="0.95"/>
<circle cx="315.0" cy="535.3" r="3.8" fill="none" stroke="#eebb66" stroke-width="0.95"/>
<circle cx="327.0" cy="521.8" r="3.8" fill="none" stroke="#eebb66" stroke-width="0.95"/>
<circle cx="338.9" cy="502.2" r="3.8" fill="none" stroke="#eebb66" stroke-width="0.95"/>
<circle cx="350.9" cy="474.4" r="3.8" fill="none" stroke="#eebb66" stroke-width="0.95"/>
<circle cx="362.9" cy="442.8" r="3.8" fill="none" stroke="#eebb66" stroke-width="0.95"/>
<circle cx="374.8" cy="411.0" r="3.8" fill="none" stroke="#eebb66" stroke-width="0.95"/>
<circle cx="386.8" cy="383.3" r="3.8" fill="none" stroke="#eebb66" stroke-width="0.95"/>
<circle cx="398.7" cy="361.7" r="3.8" fill="none" stroke="#eebb66" stroke-width="0.95"/>
<circle cx="410.7" cy="346.4" r="3.8" fill="none" stroke="#eebb66" stroke-width="0.95"/>
<circle cx="422.7" cy="335.4" r="3.8" fill="none" stroke="#eebb66" stroke-width="0.95"/>
<circle cx="434.6" cy="327.0" r="3.8" fill="none" stroke="#eebb66" stroke-width="0.95"/>
<circle cx="446.6" cy="321.1" r="3.8" fill="none" stroke="#eebb66" stroke-width="0.95"/>
<circle cx="458.5" cy="316.9" r="3.8" fill="none" stroke="#eebb66" stroke-width="0.95"/>
<circle cx="470.5" cy="313.5" r="3.8" fill="none" stroke="#eebb66" stroke-width="0.95"/>
<circle cx="482.5" cy="310.0" r="3.8" fill="none" stroke="#eebb66" stroke-width="0.95"/>
<circle cx="494.4" cy="308.0" r="3.8" fill="none" stroke="#eebb66" stroke-width="0.95"/>
<circle cx="506.4" cy="306.3" r="3.8" fill="none" stroke="#eebb66" stroke-width="0.95"/>
<circle cx="518.3" cy="305.2" r="3.8" fill="none" stroke="#eebb66" stroke-width="0.95"/>
<circle cx="530.3" cy="304.5" r="3.8" fill="none" stroke="#eebb66" stroke-width="0.95"/>
<circle cx="542.3" cy="304.0" r="3.8" fill="none" stroke="#eebb66" stroke-width="0.95"/>
<circle cx="554.2" cy="303.6" r="3.8" fill="none" stroke="#eebb66" stroke-width="0.95"/>
<circle cx="566.2" cy="303.3" r="3.8" fill="none" stroke="#eebb66" stroke-width="0.95"/>
<circle cx="578.1" cy="303.2" r="3.8" fill="none" stroke="#eebb66" stroke-width="0.95"/>
<polyline points="111.7,573.3 123.7,573.0 135.6,572.8 147.6,572.4 159.5,572.0 171.5,571.6 183.5,571.1 195.4,570.5 207.4,569.9 219.3,569.1 231.3,568.1 243.3,567.0 255.2,565.5 267.2,563.6 279.1,561.2 291.1,557.6 303.1,552.5 315.0,546.4 327.0,538.5 338.9,528.0 350.9,514.6 362.9,492.9 374.8,463.7 386.8,431.9 398.7,400.9 410.7,376.0 422.7,356.4 434.6,342.9 446.6,333.4 458.5,326.5 470.5,321.0 482.5,316.8 494.4,314.1 506.4,311.3 518.3,308.6 530.3,307.1 542.3,305.9 554.2,305.1 566.2,304.6 578.1,304.2" fill="none" stroke="#b8bcee" stroke-width="2.6"/>
<polyline points="111.7,573.3 123.7,573.0 135.6,572.8 147.6,572.4 159.5,572.0 171.5,571.6 183.5,571.1 195.4,570.5 207.4,569.9 219.3,569.1 231.3,568.1 243.3,567.0 255.2,565.5 267.2,563.6 279.1,561.2 291.1,557.6 303.1,552.5 315.0,546.4 327.0,538.5 338.9,528.0 350.9,514.6 362.9,492.9 374.8,463.7 386.8,431.9 398.7,400.9 410.7,376.0 422.7,356.4 434.6,342.9 446.6,333.4 458.5,326.5 470.5,321.0 482.5,316.8 494.4,314.1 506.4,311.3 518.3,308.6 530.3,307.1 542.3,305.9 554.2,305.1 566.2,304.6 578.1,304.2" fill="none" stroke="#2c3480" stroke-width="1.2" stroke-dasharray="2 1.6"/>
<path d="M107.8,569.4 L115.6,577.2 M115.6,569.4 L107.8,577.2" stroke="#3e4270" stroke-width="0.95"/>
<path d="M119.8,569.1 L127.6,576.9 M127.6,569.1 L119.8,576.9" stroke="#3e4270" stroke-width="0.95"/>
<path d="M131.7,568.9 L139.5,576.7 M139.5,568.9 L131.7,576.7" stroke="#3e4270" stroke-width="0.95"/>
<path d="M143.7,568.5 L151.5,576.3 M151.5,568.5 L143.7,576.3" stroke="#3e4270" stroke-width="0.95"/>
<path d="M155.6,568.1 L163.4,575.9 M163.4,568.1 L155.6,575.9" stroke="#3e4270" stroke-width="0.95"/>
<path d="M167.6,567.7 L175.4,575.5 M175.4,567.7 L167.6,575.5" stroke="#3e4270" stroke-width="0.95"/>
<path d="M179.6,567.2 L187.4,575.0 M187.4,567.2 L179.6,575.0" stroke="#3e4270" stroke-width="0.95"/>
<path d="M191.5,566.6 L199.3,574.4 M199.3,566.6 L191.5,574.4" stroke="#3e4270" stroke-width="0.95"/>
<path d="M203.5,566.0 L211.3,573.8 M211.3,566.0 L203.5,573.8" stroke="#3e4270" stroke-width="0.95"/>
<path d="M215.4,565.2 L223.2,573.0 M223.2,565.2 L215.4,573.0" stroke="#3e4270" stroke-width="0.95"/>
<path d="M227.4,564.2 L235.2,572.0 M235.2,564.2 L227.4,572.0" stroke="#3e4270" stroke-width="0.95"/>
<path d="M239.4,563.1 L247.2,570.9 M247.2,563.1 L239.4,570.9" stroke="#3e4270" stroke-width="0.95"/>
<path d="M251.3,561.6 L259.1,569.4 M259.1,561.6 L251.3,569.4" stroke="#3e4270" stroke-width="0.95"/>
<path d="M263.3,559.7 L271.1,567.5 M271.1,559.7 L263.3,567.5" stroke="#3e4270" stroke-width="0.95"/>
<path d="M275.2,557.3 L283.0,565.1 M283.0,557.3 L275.2,565.1" stroke="#3e4270" stroke-width="0.95"/>
<path d="M287.2,553.7 L295.0,561.5 M295.0,553.7 L287.2,561.5" stroke="#3e4270" stroke-width="0.95"/>
<path d="M299.2,548.6 L307.0,556.4 M307.0,548.6 L299.2,556.4" stroke="#3e4270" stroke-width="0.95"/>
<path d="M311.1,542.5 L318.9,550.3 M318.9,542.5 L311.1,550.3" stroke="#3e4270" stroke-width="0.95"/>
<path d="M323.1,534.6 L330.9,542.4 M330.9,534.6 L323.1,542.4" stroke="#3e4270" stroke-width="0.95"/>
<path d="M335.0,524.1 L342.8,531.9 M342.8,524.1 L335.0,531.9" stroke="#3e4270" stroke-width="0.95"/>
<path d="M347.0,510.7 L354.8,518.5 M354.8,510.7 L347.0,518.5" stroke="#3e4270" stroke-width="0.95"/>
<path d="M359.0,489.0 L366.8,496.8 M366.8,489.0 L359.0,496.8" stroke="#3e4270" stroke-width="0.95"/>
<path d="M370.9,459.8 L378.7,467.6 M378.7,459.8 L370.9,467.6" stroke="#3e4270" stroke-width="0.95"/>
<path d="M382.9,428.0 L390.7,435.8 M390.7,428.0 L382.9,435.8" stroke="#3e4270" stroke-width="0.95"/>
<path d="M394.8,397.0 L402.6,404.8 M402.6,397.0 L394.8,404.8" stroke="#3e4270" stroke-width="0.95"/>
<path d="M406.8,372.1 L414.6,379.9 M414.6,372.1 L406.8,379.9" stroke="#3e4270" stroke-width="0.95"/>
<path d="M418.8,352.5 L426.6,360.3 M426.6,352.5 L418.8,360.3" stroke="#3e4270" stroke-width="0.95"/>
<path d="M430.7,339.0 L438.5,346.8 M438.5,339.0 L430.7,346.8" stroke="#3e4270" stroke-width="0.95"/>
<path d="M442.7,329.5 L450.5,337.3 M450.5,329.5 L442.7,337.3" stroke="#3e4270" stroke-width="0.95"/>
<path d="M454.6,322.6 L462.4,330.4 M462.4,322.6 L454.6,330.4" stroke="#3e4270" stroke-width="0.95"/>
<path d="M466.6,317.1 L474.4,324.9 M474.4,317.1 L466.6,324.9" stroke="#3e4270" stroke-width="0.95"/>
<path d="M478.6,312.9 L486.4,320.7 M486.4,312.9 L478.6,320.7" stroke="#3e4270" stroke-width="0.95"/>
<path d="M490.5,310.2 L498.3,318.0 M498.3,310.2 L490.5,318.0" stroke="#3e4270" stroke-width="0.95"/>
<path d="M502.5,307.4 L510.3,315.2 M510.3,307.4 L502.5,315.2" stroke="#3e4270" stroke-width="0.95"/>
<path d="M514.4,304.7 L522.2,312.5 M522.2,304.7 L514.4,312.5" stroke="#3e4270" stroke-width="0.95"/>
<path d="M526.4,303.2 L534.2,311.0 M534.2,303.2 L526.4,311.0" stroke="#3e4270" stroke-width="0.95"/>
<path d="M538.4,302.0 L546.2,309.8 M546.2,302.0 L538.4,309.8" stroke="#3e4270" stroke-width="0.95"/>
<path d="M550.3,301.2 L558.1,309.0 M558.1,301.2 L550.3,309.0" stroke="#3e4270" stroke-width="0.95"/>
<path d="M562.3,300.7 L570.1,308.5 M570.1,300.7 L562.3,308.5" stroke="#3e4270" stroke-width="0.95"/>
<path d="M574.2,300.3 L582.0,308.1 M582.0,300.3 L574.2,308.1" stroke="#3e4270" stroke-width="0.95"/>
<line x1="457.6" y1="460.6" x2="486.3" y2="460.6" stroke="#6a74b0" stroke-width="1.1" stroke-dasharray="2 2"/>
<circle cx="472.3" cy="460.6" r="4.8" fill="none" stroke="#8088d0" stroke-width="0.9"/>
<text x="494" y="465.0" font-size="16.5" font-style="italic">σ</text>
<text x="504" y="469.0" font-size="11">ω</text>
<text x="519" y="465.2" font-size="18.6" transform="translate(519,465.2) scale(1.04,1) translate(-519,-465.2)">= 0.10</text>
<line x1="457.6" y1="483.7" x2="486.3" y2="483.7" stroke="#5aae5a" stroke-width="1.1" stroke-dasharray="2 2"/>
<path d="M472.3,478.5 L477.6,487.9 L467.0,487.9 Z" fill="none" stroke="#70c070" stroke-width="0.9"/>
<text x="494" y="488.6" font-size="16.5" font-style="italic">σ</text>
<text x="504" y="492.6" font-size="11">ω</text>
<text x="519" y="488.8" font-size="18.6" transform="translate(519,488.8) scale(1.04,1) translate(-519,-488.8)">= 0.15</text>
<line x1="457.6" y1="508.2" x2="486.3" y2="508.2" stroke="#f0b050" stroke-width="1.1" stroke-dasharray="2 2"/>
<circle cx="472.3" cy="508.2" r="4.8" fill="none" stroke="#f2be60" stroke-width="0.9"/>
<text x="494" y="512.2" font-size="16.5" font-style="italic">σ</text>
<text x="504" y="516.2" font-size="11">ω</text>
<text x="519" y="512.4" font-size="18.6" transform="translate(519,512.4) scale(1.04,1) translate(-519,-512.4)">= 0.20</text>
<line x1="457.6" y1="532.3" x2="486.3" y2="532.3" stroke="#4a58a8" stroke-width="1.1" stroke-dasharray="2 2"/>
<path d="M467.5,527.5 L477.1,537.1 M477.1,527.5 L467.5,537.1" stroke="#5060c0" stroke-width="0.9"/>
<text x="494" y="535.8" font-size="16.5" font-style="italic">σ</text>
<text x="504" y="539.8" font-size="11">ω</text>
<text x="519" y="536.0" font-size="18.6" transform="translate(519,536.0) scale(1.04,1) translate(-519,-536.0)">= 0.25</text>
</svg></body></html>
